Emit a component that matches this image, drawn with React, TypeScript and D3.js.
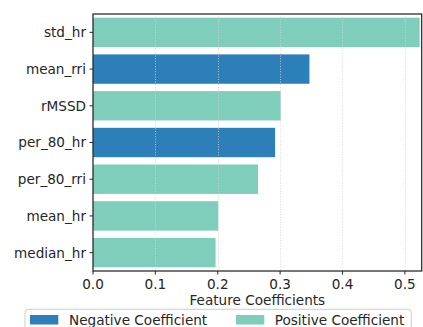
import React from "react";
import * as d3 from "d3";

const features = ["std_hr", "mean_rri", "rMSSD", "per_80_hr", "per_80_rri", "mean_hr", "median_hr"];
const coefficients = [0.5237, 0.347, 0.301, 0.292, 0.2645, 0.2008, 0.1965];
const signs = ["positive", "negative", "positive", "negative", "positive", "positive", "positive"];
const xTicks = [0, 0.1, 0.2, 0.3, 0.4, 0.5];
const legendLabels = ["Negative Coefficient", "Positive Coefficient"];

const W = 423;
const H = 327;
const left = 93;
const right = 421.7;
const top = 14;
const bottom = 271;
const font = "DejaVu Sans, sans-serif";
const fs = 13.6;
const ink = "#262626";
const colors: Record<string, string> = { negative: "#2c7fb8", positive: "#7fcdbb" };

export default function App() {
  const x = d3.scaleLinear().domain([0, 0.527]).range([left, right]);
  const y = d3.scaleBand<string>().domain(features).range([top, bottom]).paddingInner(0.2).paddingOuter(0.1);
  const bw = y.bandwidth();
  return (
    <div style={{ position: "absolute", left: 0, top: 0 }}>
      <svg width={W} height={H} style={{ display: "block" }} fontFamily={font}>
        <rect x={0} y={0} width={W} height={H} fill="#fff" />
        {features.map((f, i) => (
          <rect key={f} x={x(0)} y={y(f)!} width={x(coefficients[i]) - x(0)} height={bw} fill={colors[signs[i]]} />
        ))}
        {xTicks.slice(1).map((t) => (
          <line key={"g" + t} x1={Math.round(x(t)) + 0.5} x2={Math.round(x(t)) + 0.5} y1={top} y2={bottom}
            stroke="#d4d4d4" strokeOpacity={0.85} strokeWidth={1} strokeDasharray="1,1.6" />
        ))}
        <rect x={left} y={top} width={right - left} height={bottom - top} fill="none" stroke={ink} strokeWidth={1.25} />
        {xTicks.map((t) => (
          <g key={"x" + t}>
            <line x1={x(t)} x2={x(t)} y1={bottom} y2={bottom + 3.5} stroke={ink} strokeWidth={1} />
            <text x={x(t)} y={288.7} fontSize={fs} fill={ink} textAnchor="middle">{d3.format(".1f")(t)}</text>
          </g>
        ))}
        {features.map((f) => {
          const cy = y(f)! + bw / 2;
          return (
            <g key={"y" + f}>
              <line x1={left - 3.5} x2={left} y1={cy} y2={cy} stroke={ink} strokeWidth={1} />
              <text x={left - 7} y={cy} dy="0.36em" fontSize={fs} fill={ink} textAnchor="end">{f}</text>
            </g>
          );
        })}
        <text x={(left + right) / 2} y={304.7} fontSize={fs} fill={ink} textAnchor="middle">Feature Coefficients</text>
        <rect x={25} y={309.3} width={386.3} height={30} rx={3} fill="#fff" fillOpacity={0.8} stroke="#cccccc" strokeWidth={1} />
        <rect x={30} y={315} width={28.3} height={9.5} fill={colors.negative} />
        <text x={69} y={324.8} fontSize={fs} fill={ink}>{legendLabels[0]}</text>
        <rect x={236} y={315} width={28.3} height={9.5} fill={colors.positive} />
        <text x={274.7} y={324.8} fontSize={fs} fill={ink}>{legendLabels[1]}</text>
      </svg>
    </div>
  );
}
